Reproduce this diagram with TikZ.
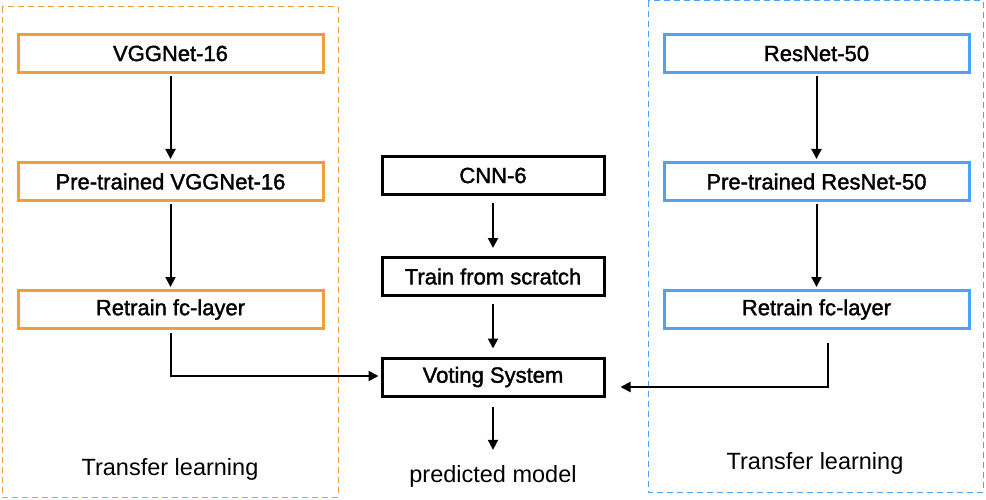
\documentclass[tikz,border=0pt]{standalone}
\usepackage{fontspec}
\setmainfont{Liberation Sans}
\newfontfamily\medfont{Liberation Sans}[FakeBold=1.6]
\usetikzlibrary{arrows.meta}
\definecolor{orng}{RGB}{240,157,58}
\definecolor{blu}{RGB}{77,163,245}
\tikzset{
  base/.style={draw, line width=3pt, minimum height=38pt, inner sep=0pt, font=\medfont\fontsize{22}{26}\selectfont},
  obox/.style={base, draw=orng, minimum width=305pt},
  bbox/.style={base, draw=blu, minimum width=305pt},
  kbox/.style={base, draw=black, minimum width=222pt},
  lbl/.style={inner sep=0pt, font=\fontsize{23.5}{27}\selectfont},
  arr/.style={line width=2pt, -{Triangle[length=10pt,width=10pt]}},
  frame/.style={line width=1pt, dash pattern=on 6pt off 4pt},
}
\begin{document}
\begin{tikzpicture}[x=1pt,y=-1pt]
\useasboundingbox (0,0) rectangle (986,500);
\fill[white] (0,0) rectangle (986,500);
% dashed frames
\draw[frame, draw=orng] (2,7) rectangle (338,497);
\draw[frame, draw=blu] (648,1) rectangle (983,492);
% left column
\node[obox] (vgg) at (170.5,53.5) {VGGNet-16};
\node[obox] (pvgg) at (170.5,181.5) {Pre-trained VGGNet-16};
\node[obox] (rvgg) at (170.5,309.5) {Retrain fc-layer};
\node[lbl] (tl1) at (170,469) {Transfer learning};
% right column
\node[bbox] (res) at (816.5,53.5) {ResNet-50};
\node[bbox] (pres) at (816.5,181.5) {Pre-trained ResNet-50};
\node[bbox] (rres) at (816.5,309.5) {Retrain fc-layer};
\node[lbl] (tl2) at (815,463) {Transfer learning};
% middle column
\node[kbox] (cnn) at (493,175.5) {CNN-6};
\node[kbox] (tfs) at (493,276.5) {Train from scratch};
\node[kbox] (vote) at (493,377) {Voting System};
\node[lbl] (pred) at (493,476) {predicted model};
% arrows
\draw[arr] ([yshift=-2pt]vgg.south) -- ([yshift=2pt]pvgg.north);
\draw[arr] ([yshift=-2pt]pvgg.south) -- ([yshift=2pt]rvgg.north);
\draw[arr] ([yshift=-2pt]res.south) -- ([yshift=2pt]pres.north);
\draw[arr] ([yshift=-2pt]pres.south) -- ([yshift=2pt]rres.north);
\draw[arr] ([yshift=-7pt]cnn.south) -- ([yshift=8pt]tfs.north);
\draw[arr] ([yshift=-7pt]tfs.south) -- ([yshift=8pt]vote.north);
\draw[arr] ([yshift=-9pt]vote.south) -- ([yshift=15pt]pred.north);
\coordinate (lc) at (170.5,376);
\coordinate (rc) at (828,387);
\draw[arr] ([yshift=-3pt]rvgg.south) -- (lc) -- ([xshift=-2pt]vote.west |- lc);
\draw[arr] (828,343) -- (rc) -- ([xshift=15pt]vote.east |- rc);
\end{tikzpicture}
\end{document}
